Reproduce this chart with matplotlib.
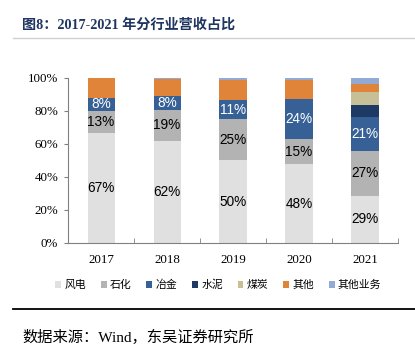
import matplotlib
matplotlib.use("Agg")
import matplotlib.pyplot as plt
from matplotlib.patches import Patch
from matplotlib.lines import Line2D
import numpy as np

years = ["2017", "2018", "2019", "2020", "2021"]
series_names = ["风电", "石化", "冶金", "水泥", "煤炭", "其他", "其他业务"]
wind = [66.6, 61.8, 50.1, 47.6, 28.6]
petro = [13.0, 18.8, 24.9, 15.2, 26.9]
metal = [8.4, 8.4, 11.2, 24.4, 20.8]
cement = [0.0, 0.0, 0.0, 0.0, 7.3]
coal = [0.0, 0.0, 0.0, 0.0, 7.8]
other = [11.8, 10.2, 12.6, 11.6, 5.0]
other_biz = [0.2, 0.8, 1.2, 1.2, 3.6]
yticks = [0, 20, 40, 60, 80, 100]

colors = ["#e0e0e0", "#b3b3b3", "#376196", "#1c3a64", "#c7bf98", "#e0843a", "#92abd6"]
label_series = {0: "black", 1: "black", 2: "white"}

fig = plt.figure(figsize=(4.15, 3.5), dpi=100)
ax = fig.add_axes([0.164, 0.306, 0.795, 0.472])

data = [wind, petro, metal, cement, coal, other, other_biz]
x = np.arange(len(years))
bottom = np.zeros(len(years))
for i, (vals, c) in enumerate(zip(data, colors)):
    vals = np.array(vals)
    ax.bar(x, vals, width=0.41, bottom=bottom, color=c, linewidth=0)
    if i in label_series:
        for xi, v, b in zip(x, vals, bottom):
            ax.text(xi, b + v / 2, f"{round(v):d}%", ha="center", va="center",
                    fontsize=9.8, family="Liberation Sans", color=label_series[i])
    bottom += vals

ax.set_xlim(-0.5, len(years) - 0.5)
ax.set_ylim(0, 100)
ax.set_yticks(yticks)
ax.set_yticklabels([f"{t}%" for t in yticks], family="Liberation Serif", fontsize=9.3)
ax.set_xticks(x)
ax.set_xticklabels(years, family="Liberation Serif", fontsize=9.3)
ax.set_xticks(np.arange(0.5, len(years) - 0.5 + 0.01, 1.0), minor=True)
ax.tick_params(axis="x", which="major", length=0, pad=8)
ax.tick_params(axis="x", which="minor", length=3.5, direction="in", color="#808080")
ax.tick_params(axis="y", length=3, direction="out", color="#808080", pad=4)
for s in ["top", "right"]:
    ax.spines[s].set_visible(False)
for s in ["left", "bottom"]:
    ax.spines[s].set_color("#808080")
    ax.spines[s].set_linewidth(0.8)

# title
fig.text(0.053, 0.928, "图8：2017-2021 年分行业营收占比", fontsize=10.2, fontweight="bold",
         color="#1f3660", family=["Liberation Serif", "Noto Sans CJK SC"], va="center")
fig.add_artist(Line2D([0.031, 1.0], [0.891, 0.891], color="#d0d0d0", lw=1.0))

# legend
handles = [Patch(facecolor=c, edgecolor="none") for c in colors]
leg = fig.legend(handles, series_names, loc="center", bbox_to_anchor=(0.526, 0.186), ncol=7,
                 frameon=False, handlelength=0.55, handleheight=0.55, handletextpad=0.3,
                 columnspacing=1.35, prop={"family": ["Noto Sans CJK SC"], "size": 7.8})

# bottom line and source
fig.add_artist(Line2D([0.031, 1.0], [0.117, 0.117], color="black", lw=1.3))
fig.text(0.053, 0.037, "数据来源：Wind，东吴证券研究所", fontsize=11,
         family=["Liberation Serif", "Noto Sans CJK SC"], va="center", color="black")

fig.savefig("out.png", dpi=100)
